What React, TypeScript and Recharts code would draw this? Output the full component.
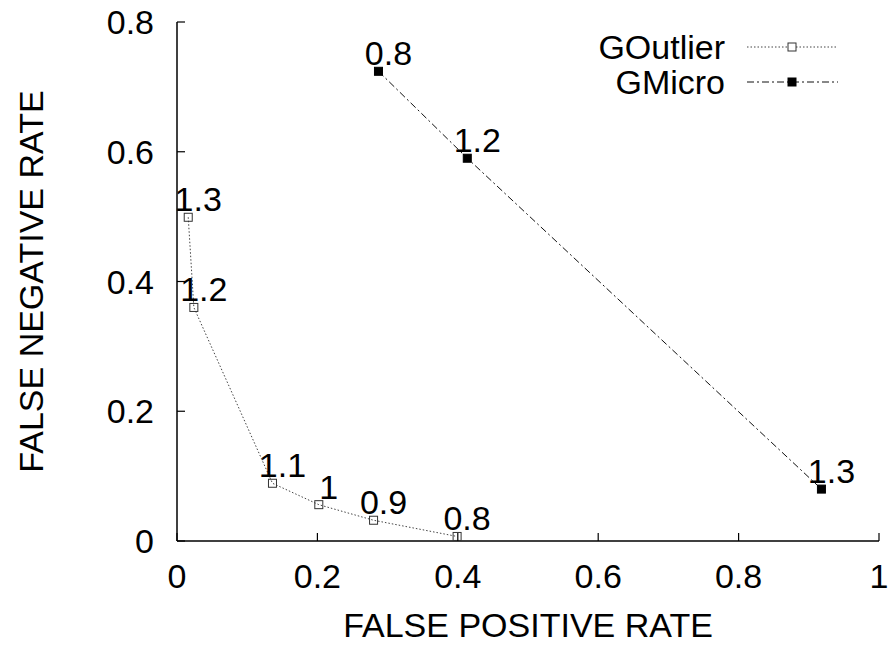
import React from "react";
import { ScatterChart, Scatter, XAxis, YAxis, Legend } from "recharts";

// GOutlier: threshold sweep
const outlierThresh = ["1.3", "1.2", "1.1", "1", "0.9", "0.8"];
const outlierFpr = [0.016, 0.024, 0.136, 0.202, 0.28, 0.399];
const outlierFnr = [0.499, 0.36, 0.089, 0.056, 0.032, 0.007];

// GMicro: threshold sweep
const microThresh = ["0.8", "1.2", "1.3"];
const microFpr = [0.287, 0.4135, 0.918];
const microFnr = [0.724, 0.59, 0.08];

const xTicks = [0, 0.2, 0.4, 0.6, 0.8, 1];
const yTicks = [0, 0.2, 0.4, 0.6, 0.8];

const outlierData = outlierFpr.map((v, i) => ({ fpr: v, fnr: outlierFnr[i], t: outlierThresh[i] }));
const microData = microFpr.map((v, i) => ({ fpr: v, fnr: microFnr[i], t: microThresh[i] }));

const FONT = '"Liberation Sans", Arial, Helvetica, sans-serif';
const FS = 34;
const TICK = 8;

const OUTLIER_DASH = "1.5 2";
const MICRO_DASH = "7 3 2 3";

const fmt = (v: number) => String(Number(v.toFixed(1)));

function BottomTick(props: any) {
  const { x, y, payload } = props;
  return (
    <g>
      <line x1={x} y1={y} x2={x} y2={y - TICK} stroke="#000" strokeWidth={1.2} />
      <text x={x} y={y + 47} textAnchor="middle" fontSize={FS} fontFamily={FONT} fill="#000">
        {fmt(payload.value)}
      </text>
    </g>
  );
}

function LeftTick(props: any) {
  const { x, y, payload } = props;
  return (
    <g>
      <line x1={x} y1={y} x2={x + TICK} y2={y} stroke="#000" strokeWidth={1.2} />
      <text x={x - 23} y={y} dy="0.36em" textAnchor="end" fontSize={FS} fontFamily={FONT} fill="#000">
        {fmt(payload.value)}
      </text>
    </g>
  );
}

function TopTick(props: any) {
  const { x, y } = props;
  return <line x1={x} y1={y} x2={x} y2={y + TICK} stroke="#000" strokeWidth={1.2} />;
}

function RightTick(props: any) {
  const { x, y } = props;
  return <line x1={x} y1={y} x2={x - TICK} y2={y} stroke="#000" strokeWidth={1.2} />;
}

function pointShape(filled: boolean) {
  return (props: any) => {
    const { cx, cy, payload } = props;
    return (
      <g>
        <rect
          x={cx - 4}
          y={cy - 4}
          width={8}
          height={8}
          fill={filled ? "#000" : "none"}
          stroke={filled ? "#000" : "#333"}
          strokeWidth={1}
        />
        <text x={cx + 10} y={cy - 6} textAnchor="middle" fontSize={FS} fontFamily={FONT} fill="#000">
          {payload.t}
        </text>
      </g>
    );
  };
}

const legendRows = [
  { name: "GOutlier", filled: false, dash: OUTLIER_DASH, stroke: "#444" },
  { name: "GMicro", filled: true, dash: MICRO_DASH, stroke: "#111" },
];

function LegendBox() {
  return (
    <svg width={280} height={105} style={{ overflow: "visible" }}>
      {legendRows.map((r, i) => {
        const y = 37 + i * 35;
        return (
          <g key={r.name}>
            <text x={155} y={y} dy="0.36em" textAnchor="end" fontSize={FS} fontFamily={FONT} fill="#000">
              {r.name}
            </text>
            <line x1={177} y1={y} x2={268} y2={y} stroke={r.stroke} strokeWidth={1} strokeDasharray={r.dash} />
            <rect
              x={218}
              y={y - 4}
              width={8}
              height={8}
              fill={r.filled ? "#000" : "#fff"}
              stroke={r.filled ? "#000" : "#333"}
              strokeWidth={1}
            />
          </g>
        );
      })}
    </svg>
  );
}

function YTitle(props: any) {
  const vb = props.viewBox || {};
  const cy = (vb.y ?? 22) + (vb.height ?? 519) / 2;
  return (
    <text
      x={43}
      y={cy}
      transform={`rotate(-90, 43, ${cy})`}
      textAnchor="middle"
      fontSize={FS}
      fontFamily={FONT}
      fill="#000"
    >
      FALSE NEGATIVE RATE
    </text>
  );
}

function XTitle(props: any) {
  const vb = props.viewBox || {};
  const cx = (vb.x ?? 177) + (vb.width ?? 702) / 2;
  return (
    <text x={cx} y={637} textAnchor="middle" fontSize={FS} fontFamily={FONT} fill="#000">
      FALSE POSITIVE RATE
    </text>
  );
}

export default function App() {
  return (
    <div style={{ position: "absolute", left: 0, top: 0, width: 890, height: 645, background: "#fff" }}>
      <ScatterChart width={890} height={645} margin={{ top: 22, right: 11, bottom: 0, left: 0 }}>
        <XAxis
          type="number"
          dataKey="fpr"
          domain={[0, 1]}
          ticks={xTicks}
          height={104}
          tickSize={0}
          tickMargin={0}
          tick={<BottomTick />}
          axisLine={{ stroke: "#000", strokeWidth: 1.5 }}
          label={{ content: <XTitle /> }}
        />
        <XAxis
          xAxisId="top"
          orientation="top"
          type="number"
          domain={[0, 1]}
          ticks={xTicks}
          height={0}
          tickSize={0}
          tickMargin={0}
          tick={<TopTick />}
          axisLine={{ stroke: "#000", strokeWidth: 1.5 }}
        />
        <YAxis
          type="number"
          dataKey="fnr"
          domain={[0, 0.8]}
          ticks={yTicks}
          width={177}
          tickSize={0}
          tickMargin={0}
          tick={<LeftTick />}
          axisLine={{ stroke: "#000", strokeWidth: 1.5 }}
          label={{ content: <YTitle /> }}
        />
        <YAxis
          yAxisId="right"
          orientation="right"
          type="number"
          domain={[0, 0.8]}
          ticks={yTicks}
          width={0}
          tickSize={0}
          tickMargin={0}
          tick={<RightTick />}
          axisLine={{ stroke: "#000", strokeWidth: 1.5 }}
        />
        <Legend
          layout="vertical"
          align="center"
          verticalAlign="middle"
          content={() => <LegendBox />}
          wrapperStyle={{ position: "absolute", left: 570, top: 10, width: 280, height: 105 }}
        />
        <Scatter
          name="GOutlier"
          data={outlierData}
          line={{ stroke: "#444", strokeWidth: 1, strokeDasharray: OUTLIER_DASH }}
          lineType="joint"
          shape={pointShape(false)}
          isAnimationActive={false}
        />
        <Scatter
          name="GMicro"
          data={microData}
          line={{ stroke: "#111", strokeWidth: 1, strokeDasharray: MICRO_DASH }}
          lineType="joint"
          shape={pointShape(true)}
          isAnimationActive={false}
        />
      </ScatterChart>
    </div>
  );
}
